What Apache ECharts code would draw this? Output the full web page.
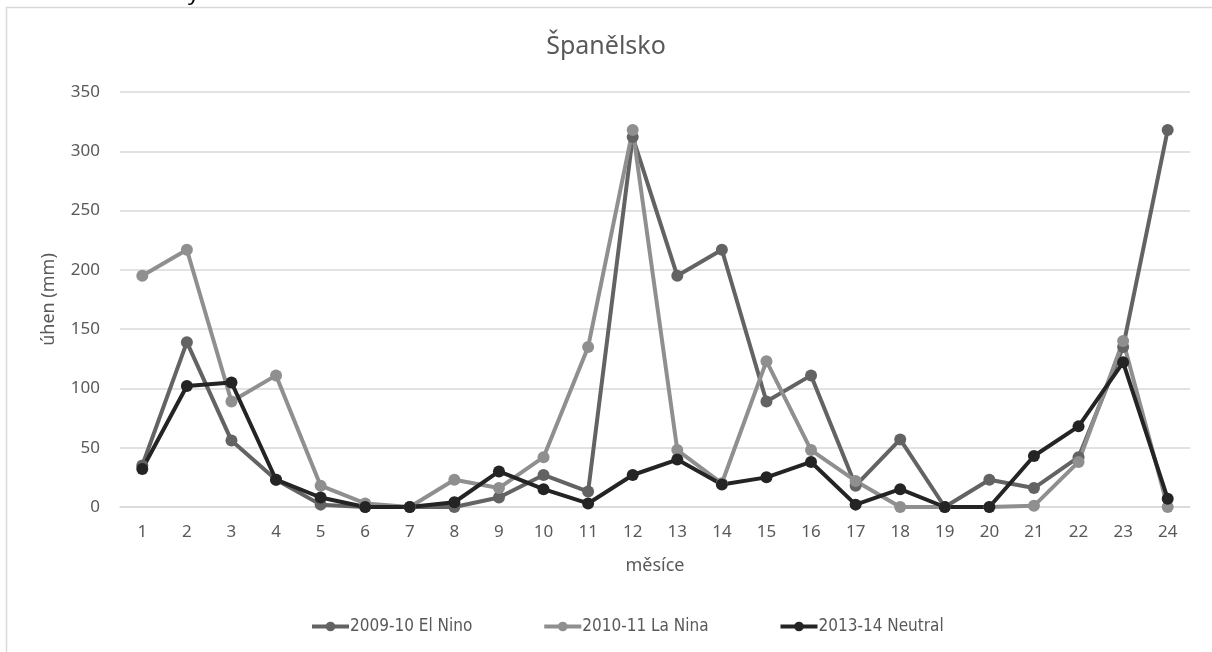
<!DOCTYPE html>
<html>
<head>
<meta charset="utf-8">
<script src="https://cdn.jsdelivr.net/npm/echarts@6/dist/echarts.min.js"></script>
<style>
  html, body { margin: 0; padding: 0; background: #ffffff; }
  #chart { width: 1212px; height: 652px; }
</style>
</head>
<body>
<div id="chart"></div>
<script>
// Monthly rainfall in Spain for three ENSO seasons (mm)
const months = ['1','2','3','4','5','6','7','8','9','10','11','12','13','14','15','16','17','18','19','20','21','22','23','24'];
const elNino   = [35, 139, 56, 23, 2, 0, 0, 0, 8, 27, 13, 312, 195, 217, 89, 111, 18, 57, 0, 23, 16, 42, 135, 318];
const laNina   = [195, 217, 89, 111, 18, 3, 0, 23, 16, 42, 135, 318, 48, 20, 123, 48, 22, 0, 0, 0, 1, 38, 140, 0];
const neutral  = [32, 102, 105, 23, 8, 0, 0, 4, 30, 15, 3, 27, 40, 19, 25, 38, 2, 15, 0, 0, 43, 68, 122, 7];
const seriesNames = ['2009-10 El Nino', '2010-11 La Nina', '2013-14 Neutral'];
const seriesColors = ['#636363', '#8f8f8f', '#242424'];

const chart = echarts.init(document.getElementById('chart'), null, { renderer: 'canvas' });
const textColor = '#595959';
const gridColor = '#d9d9d9';

function lineSeries(name, data, color) {
  return {
    name: name,
    type: 'line',
    data: data,
    symbol: 'circle',
    symbolSize: 12,
    showAllSymbol: true,
    lineStyle: { color: color, width: 4 },
    itemStyle: { color: color },
    emphasis: { disabled: true },
    animation: false
  };
}

chart.setOption({
  backgroundColor: '#ffffff',
  animation: false,
  title: {
    text: 'Španělsko',
    left: 'center',
    top: 29,
    textStyle: { color: textColor, fontSize: 25, fontWeight: 'normal', fontFamily: 'Noto Sans' }
  },
  legend: {
    bottom: 12,
    left: 305,
    itemWidth: 37,
    itemHeight: 12,
    itemGap: 70,
    lineStyle: { width: 4 },
    textStyle: { color: textColor, fontSize: 17, fontFamily: 'Liberation Sans Narrow, DejaVu Sans Condensed, sans-serif', padding: [0, 0, 0, -4] },
    data: seriesNames
  },
  grid: { left: 120, right: 22, top: 92, bottom: 145, containLabel: false },
  xAxis: {
    type: 'category',
    data: months,
    boundaryGap: true,
    name: 'měsíce',
    nameLocation: 'middle',
    nameGap: 50,
    nameTextStyle: { color: textColor, fontSize: 18, fontFamily: 'Noto Sans' },
    axisLine: { lineStyle: { color: gridColor, width: 1.5 } },
    axisTick: { show: false },
    axisLabel: { color: textColor, fontSize: 17, margin: 17, fontFamily: 'Noto Sans' }
  },
  yAxis: {
    type: 'value',
    min: 0,
    max: 350,
    interval: 50,
    name: 'úhen (mm)',
    nameLocation: 'middle',
    nameRotate: 90,
    nameGap: 62,
    nameTextStyle: { color: textColor, fontSize: 18, fontFamily: 'Noto Sans' },
    axisLine: { show: false },
    axisTick: { show: false },
    splitLine: { lineStyle: { color: gridColor, width: 1.5 } },
    axisLabel: { color: textColor, fontSize: 17, margin: 20, fontFamily: 'Noto Sans' }
  },
  graphic: [
    {
      type: 'rect',
      silent: true,
      z: -10,
      shape: { x: 6.5, y: 7.5, width: 1260, height: 700 },
      style: { fill: 'none', stroke: '#d9d9d9', lineWidth: 1.5 }
    },
    {
      type: 'text',
      silent: true,
      left: 188,
      top: -17,
      style: { text: 'y', fill: '#000000', fontSize: 22, fontFamily: 'Noto Sans' }
    }
  ],
  series: [
    lineSeries(seriesNames[0], elNino, seriesColors[0]),
    lineSeries(seriesNames[1], laNina, seriesColors[1]),
    lineSeries(seriesNames[2], neutral, seriesColors[2])
  ]
});
</script>
</body>
</html>
